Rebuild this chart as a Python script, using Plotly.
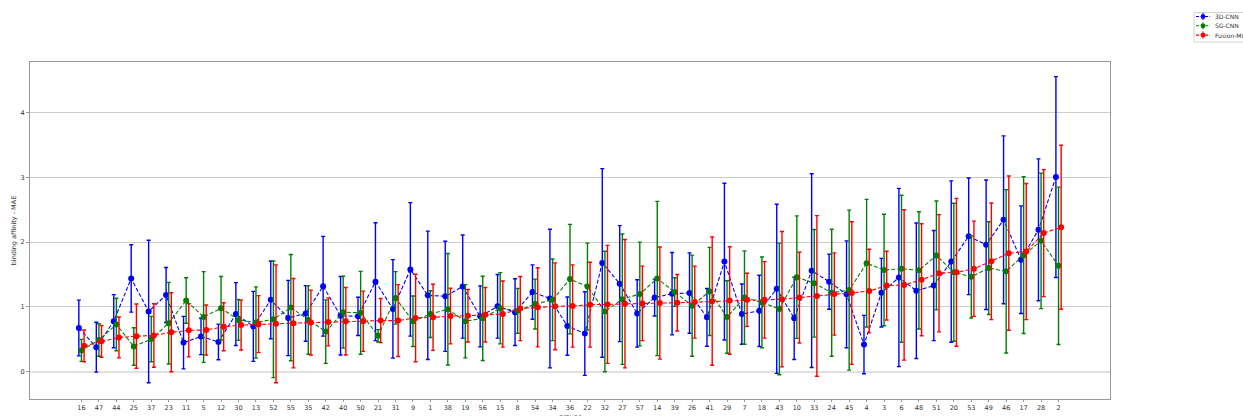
import plotly.graph_objects as go

groups = ["16","47","44","25","37","23","11","5","12","30","13","52","55","35","42","40","50","21","31","9","1",
          "38","19","56","15","8","54","34","36","22","32","27","57","14","39","26","41","29","7","18","43","10",
          "33","24","45","4","3","6","48","51","20","53","49","46","17","28","2"]

cnn3d_mean = [0.675,0.38,0.78,1.44,0.93,1.185,0.45,
              0.545,0.46,0.89,0.70,1.11,0.83,0.90,
              1.32,0.865,0.855,1.39,0.97,1.58,1.18,
              1.165,1.315,0.855,1.01,0.92,1.23,1.13,
              0.705,0.59,1.68,1.36,0.90,1.145,1.205,
              1.215,0.84,1.70,0.89,0.94,1.28,0.825,
              1.56,1.39,1.195,0.42,1.22,1.455,1.25,
              1.33,1.70,2.09,1.96,2.345,1.73,2.19,3.005]
cnn3d_err = [0.43,0.385,0.41,0.52,1.10,0.425,0.405,
             0.28,0.275,0.485,0.54,0.60,0.58,0.43,
             0.77,0.605,0.295,0.91,0.76,1.03,0.99,
             0.85,0.795,0.47,0.49,0.515,0.42,1.07,
             0.45,0.645,1.455,0.895,0.52,0.285,0.635,
             0.62,0.445,1.21,0.465,0.55,1.305,0.635,
             1.495,0.425,0.825,0.45,0.53,1.375,1.045,
             0.85,1.245,0.90,1.00,1.295,0.83,1.095,1.55]

sgcnn_mean = [0.33,0.49,0.73,0.39,0.505,0.75,1.10,
              0.845,0.98,0.80,0.76,0.81,0.99,0.80,
              0.62,0.92,0.91,0.555,1.14,0.78,0.89,
              0.965,0.78,0.825,0.98,0.94,1.045,1.11,
              1.43,1.315,0.93,1.12,1.20,1.44,1.23,
              1.02,1.24,0.845,1.145,1.07,0.97,1.46,
              1.365,1.22,1.26,1.675,1.57,1.59,1.565,
              1.795,1.535,1.465,1.60,1.55,1.80,2.02,1.635]
sgcnn_err = [0.17,0.25,0.405,0.29,0.35,0.63,0.35,
             0.70,0.49,0.315,0.55,0.90,0.82,0.53,
             0.49,0.555,0.64,0.095,0.405,0.39,0.36,
             0.86,0.565,0.65,0.55,0.345,0.385,0.63,
             0.845,0.67,0.93,1.005,0.80,1.19,0.22,
             0.78,0.68,0.56,0.72,0.70,1.015,0.945,
             0.83,0.98,1.235,0.985,0.86,1.135,0.905,
             0.84,1.065,0.635,0.715,1.26,1.21,1.045,1.215]

fusion_mean = [0.40,0.47,0.53,0.55,0.56,0.61,0.64,
               0.645,0.695,0.72,0.735,0.74,0.75,0.76,
               0.77,0.78,0.78,0.79,0.79,0.83,0.84,
               0.86,0.865,0.88,0.89,0.975,0.995,1.01,
               1.015,1.035,1.04,1.05,1.055,1.06,1.065,
               1.075,1.09,1.10,1.11,1.11,1.12,1.145,
               1.17,1.20,1.215,1.245,1.33,1.34,1.42,
               1.52,1.535,1.59,1.705,1.83,1.855,2.14,2.23]
fusion_err = [0.245,0.245,0.315,0.495,0.49,0.61,0.41,
              0.385,0.37,0.385,0.44,0.91,0.69,0.50,
              0.37,0.52,0.465,0.34,0.555,0.675,0.51,
              0.43,0.405,0.42,0.51,0.495,0.61,0.67,
              0.635,0.655,0.91,0.99,0.575,0.865,0.435,
              0.555,0.99,0.83,0.41,0.59,1.045,0.70,
              1.24,0.635,1.10,0.645,0.53,1.16,0.865,
              0.905,1.14,0.735,0.90,1.19,1.05,0.98,1.265]

series_names = ["3D-CNN", "SG-CNN", "Fusion-Mid"]
series_colors = ["#0000ff", "#008000", "#ff0000"]

series = [
    (series_names[0], cnn3d_mean, cnn3d_err, series_colors[0], -0.15),
    (series_names[1], sgcnn_mean, sgcnn_err, series_colors[1], 0.0),
    (series_names[2], fusion_mean, fusion_err, series_colors[2], 0.15),
]

# body margin is removed by the post script, so the figure fills the window
W, H = 1243, 416
L, R, T, B = 30, 133, 62, 17

idx = list(range(len(groups)))
fig = go.Figure()
for name, mean, err, color, off in series:
    fig.add_trace(go.Scatter(
        x=[i + off for i in idx], y=mean, name=name, mode="lines+markers",
        line=dict(color=color, width=1.1, dash="4px,2px"),
        marker=dict(color=color, size=6, symbol="circle"),
        error_y=dict(type="data", array=err, visible=True, color=color, thickness=1.4, width=2),
        showlegend=False,
    ))

# compact matplotlib-style legend, positions given in window pixels
pw, ph = W - L - R, H - T - B
def px(x):
    return (x - L) / pw
def py(y):
    return (H - B - y) / ph

shapes = [dict(type="rect", xref="paper", yref="paper",
               x0=px(1194), x1=px(1252), y0=py(42), y1=py(12.5),
               line=dict(color="#d0d0d0", width=1), fillcolor="white", layer="above")]
annotations = []
for k, (name, color) in enumerate(zip(series_names, series_colors)):
    yc = 16.5 + k * 9.3
    shapes.append(dict(type="line", xref="paper", yref="paper",
                       x0=px(1196), x1=px(1210), y0=py(yc), y1=py(yc),
                       line=dict(color=color, width=1.1, dash="3px,1.5px"), layer="above"))
    shapes.append(dict(type="line", xref="paper", yref="paper",
                       x0=px(1203), x1=px(1203), y0=py(yc - 3.5), y1=py(yc + 3.5),
                       line=dict(color=color, width=1.2), layer="above"))
    shapes.append(dict(type="rect", xref="paper", yref="paper",
                       x0=px(1201), x1=px(1205), y0=py(yc + 2), y1=py(yc - 2),
                       line=dict(color=color, width=0), fillcolor=color, layer="above"))
    annotations.append(dict(text=name, xref="paper", yref="paper", x=px(1213), y=py(yc),
                            xanchor="left", yanchor="middle", showarrow=False,
                            font=dict(size=6, color="#333")))

# x-axis title, sitting just below the tick labels like the reference
annotations.append(dict(text="groups", xref="paper", yref="paper", x=0.5, y=py(411),
                        xanchor="center", yanchor="top", showarrow=False,
                        font=dict(size=6.5, color="#333")))

fig.update_layout(
    width=W, height=H,
    margin=dict(l=L, r=R, t=T, b=B),
    paper_bgcolor="white", plot_bgcolor="white",
    font=dict(family="DejaVu Sans", size=6.5, color="#333"),
    showlegend=False,
    shapes=shapes, annotations=annotations,
    xaxis=dict(range=[-2.95, 58.95], tickmode="array", tickvals=idx, ticktext=groups,
               showgrid=False, zeroline=False, showline=True, linecolor="#999", linewidth=1,
               mirror=True, ticks="outside", ticklen=2, tickcolor="#999", tickangle=0,
               automargin=False),
    yaxis=dict(range=[-0.42, 4.78], tickvals=[0, 1, 2, 3, 4],
               showgrid=True, gridcolor="#cccccc", gridwidth=1,
               zeroline=True, zerolinecolor="#e0e0e0", zerolinewidth=2,
               showline=True, linecolor="#999", linewidth=1, mirror=True,
               ticks="outside", ticklen=3, tickcolor="#999", automargin=False,
               title=dict(text="binding affinity - MAE", standoff=3, font=dict(size=6.5))),
)

fig.write_html("out.html", config={"displayModeBar": False},
               post_script="document.body.style.margin='0';document.body.style.overflow='hidden';")
